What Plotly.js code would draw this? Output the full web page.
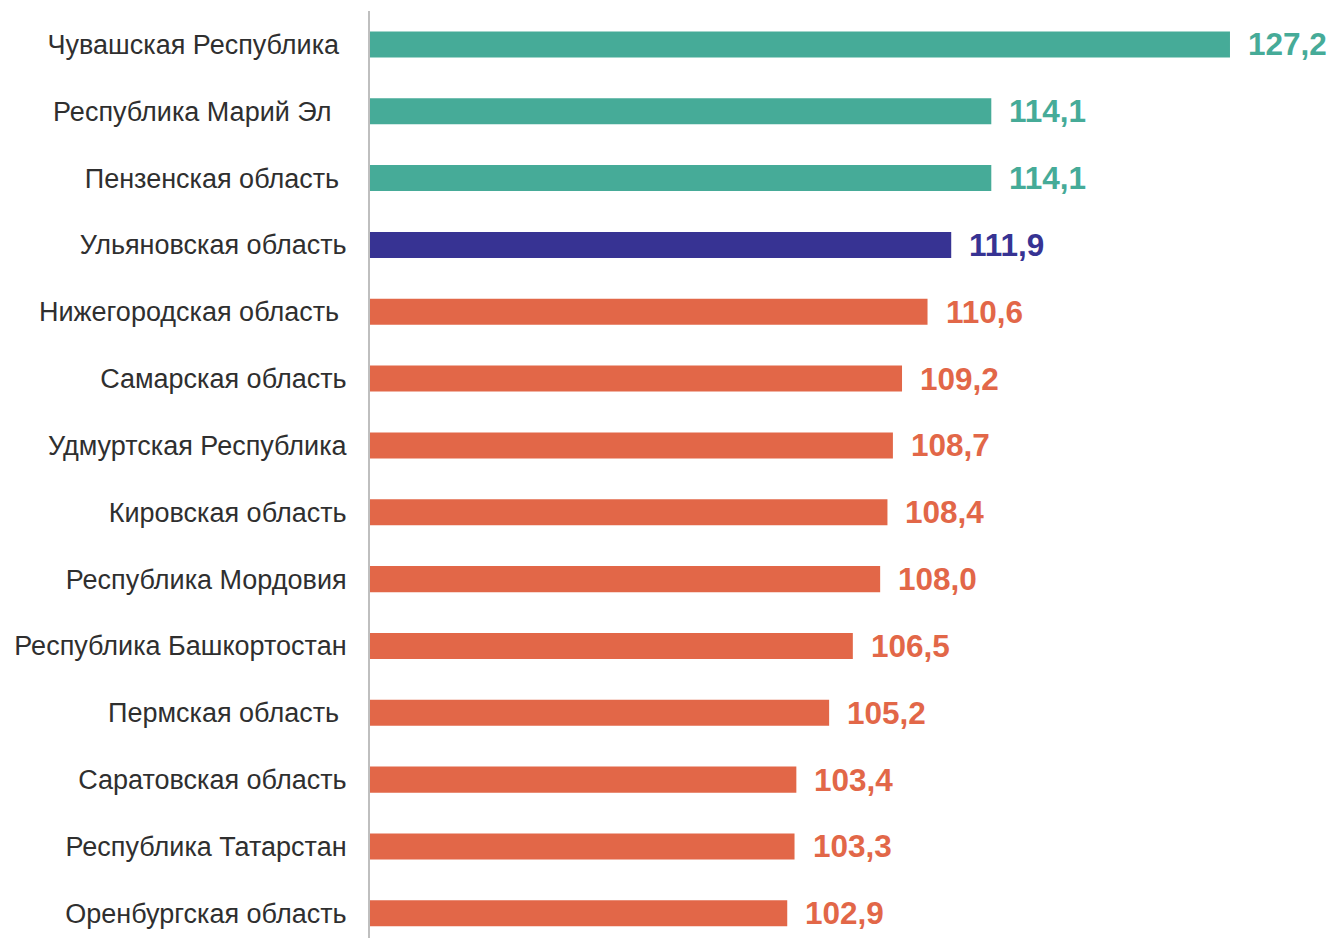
<!DOCTYPE html>
<html>
<head>
<meta charset="utf-8">
<script src="https://cdn.plot.ly/plotly-3.0.1.min.js"></script>
<style>html,body{margin:0;padding:0;background:#fff;}#chart{width:1335px;height:938px;}</style>
</head>
<body>
<div id="chart"></div>
<script>
var regions = [
  "Чувашская Республика\u00A0",
  "Республика Марий Эл\u00A0\u00A0",
  "Пензенская область\u00A0",
  "Ульяновская область",
  "Нижегородская область\u00A0",
  "Самарская область",
  "Удмуртская Республика",
  "Кировская область",
  "Республика Мордовия",
  "Республика Башкортостан",
  "Пермская область\u00A0",
  "Саратовская область",
  "Республика Татарстан",
  "Оренбургская область"
];
var values = [127.2, 114.1, 114.1, 111.9, 110.6, 109.2, 108.7, 108.4, 108.0, 106.5, 105.2, 103.4, 103.3, 102.9];
var groups = ["top","top","top","own","rest","rest","rest","rest","rest","rest","rest","rest","rest","rest"];
var groupColors = {top: "#46AB98", own: "#373393", rest: "#E26748"};

var colors = groups.map(function(g){ return groupColors[g]; });
var base = 80;

var trace = {
  type: "bar",
  orientation: "h",
  y: regions,
  x: values.map(function(v){ return v - base; }),
  base: base,
  marker: {color: colors},
  width: 0.39,
  hoverinfo: "none"
};

var annotations = values.map(function(v, i){
  return {
    x: v, y: regions[i], xref: "x", yref: "y",
    text: "<b>" + v.toFixed(1).replace(".", ",") + "</b>",
    showarrow: false, xanchor: "left", yanchor: "middle", xshift: 16,
    font: {family: "Arial, 'Liberation Sans', sans-serif", size: 31.5, color: colors[i]}
  };
});

var layout = {
  width: 1335, height: 938,
  margin: {l: 370, r: 54, t: 11, b: 0, autoexpand: false},
  paper_bgcolor: "#ffffff", plot_bgcolor: "#ffffff",
  showlegend: false,
  font: {family: "Arial, 'Liberation Sans', sans-serif", size: 27, color: "#2F2F2F"},
  xaxis: {range: [base, 130], showgrid: false, zeroline: false, showticklabels: false, showline: false, ticks: "", fixedrange: true},
  yaxis: {type: "category", range: [13.37, -0.5], showgrid: false, zeroline: false, showline: true, linecolor: "#BFBFBF", linewidth: 2, ticks: "", ticklabelstandoff: 16, tickfont: {size: 27, color: "#2F2F2F"}, fixedrange: true},
  annotations: annotations
};

Plotly.newPlot("chart", [trace], layout, {displayModeBar: false, staticPlot: true});
</script>
</body>
</html>
